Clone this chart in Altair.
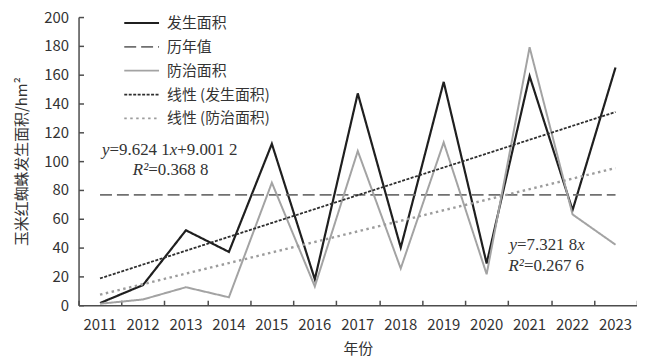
import altair as alt
import pandas as pd

# ---- data ----
years = [str(y) for y in range(2011, 2024)]
occurrence = [1.5, 14, 52, 37, 112, 18, 147, 40, 155, 29, 159, 66, 165]
control = [1, 4, 12.5, 5.5, 85, 13, 107, 25.5, 113, 21.5, 179, 63, 42]
hist_years = ["2011", "2023"]
hist_avg = [76.6, 76.6]
trend_years = ["2011", "2023"]
trend_occ = [18.6, 134.1]
trend_ctrl = [7.3, 95.2]

series_names = ["发生面积", "历年值", "防治面积", "线性 (发生面积)", "线性 (防治面积)"]
series_colors = ["#1f1f1f", "#707070", "#a3a3a3", "#2e2e2e", "#9c9c9c"]
series_dash = [[1, 0], [12, 5], [1, 0], [3, 1.5], [2.5, 3.5]]

# annotation text pieces (year anchor, value, text, italic, dx)
ann_year = ["2011", "2011", "2011", "2011", "2011", "2011",
            "2020", "2020", "2020", "2020", "2020"]
ann_val = [107.5, 107.5, 107.5, 107.5, 93.8, 93.8,
           42, 42, 42, 27, 27]
ann_text = ["y", "=9.624 1", "x", "+9.001 2", "R²", "=0.368 8",
            "y", "=7.321 8", "x", "R²", "=0.267 6"]
ann_italic = [True, False, True, False, True, False,
              True, False, True, True, False]
ann_dx = [2, 9.6, 70.1, 77.7, 33, 48.5,
          23, 30.6, 91.1, 22, 37.5]

W, H = 562, 290
FONT = "Noto Sans CJK SC"

def frame(xs, vs, name):
    return pd.DataFrame({"year": xs, "value": vs, "series": name})

df_occ = frame(years, occurrence, series_names[0])
df_hist = frame(hist_years, hist_avg, series_names[1])
df_ctrl = frame(years, control, series_names[2])
df_tocc = frame(trend_years, trend_occ, series_names[3])
df_tctrl = frame(trend_years, trend_ctrl, series_names[4])

x_scale = alt.Scale(type="band", domain=years, paddingInner=0, paddingOuter=0)
y_scale = alt.Scale(domain=[0, 200], nice=False)
color_scale = alt.Scale(domain=series_names, range=series_colors)
dash_scale = alt.Scale(domain=series_names, range=series_dash)
yvals = list(range(0, 201, 20))

legend = alt.Legend(
    title=None, orient="none", legendX=45, legendY=-6, symbolType="stroke",
    symbolSize=1225, symbolStrokeWidth=1.8, labelFont=FONT, labelFontSize=15,
    labelColor="#333333", labelOffset=7, rowPadding=0, clipHeight=24, padding=0,
)

main_x = alt.Axis(title="年份", labelAngle=0, ticks=False, domainColor="#4d4d4d",
                  domainWidth=1.5, labelFont=FONT, labelFontSize=15, labelColor="#333333",
                  labelPadding=12, titleFont=FONT, titleFontSize=15, titleFontWeight="normal",
                  titleColor="#333333", titlePadding=10, grid=False)
tick_x = alt.Axis(orient="top", offset=-H, labels=False, domain=False, tickBand="extent",
                  tickSize=5, tickColor="#4d4d4d", tickWidth=1.5, title=None, grid=False)
main_y = alt.Axis(title="玉米红蜘蛛发生面积/hm²", values=yvals, ticks=False,
                  domainColor="#4d4d4d", domainWidth=1.5, labelFont=FONT, labelFontSize=15,
                  labelColor="#333333", labelPadding=10, titleFont=FONT, titleFontSize=15,
                  titleFontWeight="normal", titleColor="#333333", titlePadding=14, grid=False)
tick_y = alt.Axis(orient="right", offset=-W, values=yvals, labels=False, domain=False,
                  tickSize=5, tickColor="#4d4d4d", tickWidth=1.5, title=None, grid=False)


def line_layer(df, xaxis, yaxis, **mark):
    return alt.Chart(df).mark_line(**mark).encode(
        x=alt.X("year:O", scale=x_scale, axis=xaxis),
        y=alt.Y("value:Q", scale=y_scale, axis=yaxis),
        color=alt.Color("series:N", scale=color_scale, legend=legend),
        strokeDash=alt.StrokeDash("series:N", scale=dash_scale, legend=legend),
    )


layers = [
    line_layer(df_occ, main_x, main_y, strokeWidth=2.2),
    line_layer(df_hist, tick_x, tick_y, strokeWidth=1.6),
    line_layer(df_ctrl, None, None, strokeWidth=2),
    line_layer(df_tocc, None, None, strokeWidth=1.8),
    line_layer(df_tctrl, None, None, strokeWidth=2.4),
]

for yr, v, t, it, dx in zip(ann_year, ann_val, ann_text, ann_italic, ann_dx):
    d = pd.DataFrame({"year": [yr], "value": [v], "label": [t]})
    layers.append(
        alt.Chart(d).mark_text(font="Liberation Serif", fontSize=17,
                               fontStyle="italic" if it else "normal",
                               align="left", baseline="middle", dx=dx, color="#333333")
        .encode(x=alt.X("year:O", scale=x_scale, axis=None),
                y=alt.Y("value:Q", scale=y_scale, axis=None),
                text="label:N")
    )

chart = (
    alt.layer(*layers)
    .resolve_axis(x="independent", y="independent")
    .properties(width=W, height=H, autosize=alt.AutoSizeParams(type="none"),
                padding={"left": 71, "top": 8, "right": 0, "bottom": 51})
    .configure_view(stroke=None)
)

chart.save("out.html", embed_options={"renderer": "svg", "actions": False})
